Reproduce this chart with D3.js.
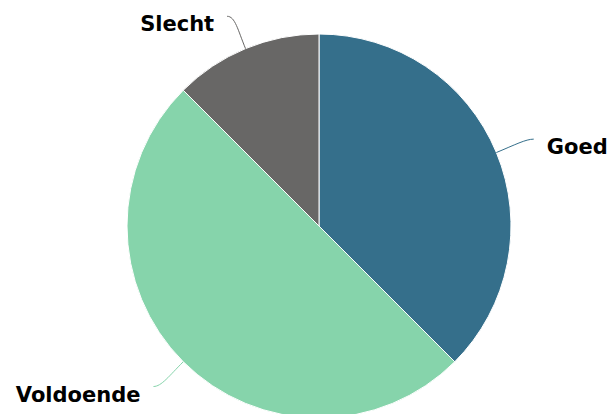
<!DOCTYPE html>
<html>
<head>
<meta charset="utf-8">
<script src="https://cdn.jsdelivr.net/npm/d3@7"></script>
<style>
  body { margin: 0; background: #fff; }
  svg { display: block; }
</style>
</head>
<body>
<div class="chart"></div>
<script>
var labels = ["Goed", "Voldoende", "Slecht"];
var values = [37.5, 50, 12.5];
var colors = ["#356f8b", "#86d4ab", "#686766"];

var width = 611, height = 414;
var cx = 319, cy = 226, radius = 192;

var svg = d3.select('.chart').append('svg')
    .attr('width', width).attr('height', height);

var g = svg.append('g').attr('transform', 'translate(' + cx + ',' + cy + ')');

var pie = d3.pie().sort(null).value(function(d) { return d.value; });
var data = pie(labels.map(function(l, i) { return { label: l, value: values[i], color: colors[i] }; }));

var arc = d3.arc().innerRadius(0).outerRadius(radius);

g.selectAll('.slice')
  .data(data)
  .enter().append('path')
    .attr('class', 'slice')
    .attr('d', arc)
    .attr('fill', function(d) { return d.data.color; })
    .attr('stroke', '#fff')
    .attr('stroke-width', 1)
    .attr('stroke-linejoin', 'round');

// point on a ray from the centre at the slice's middle angle
function pt(d, r) {
  var a = (d.startAngle + d.endAngle) / 2;
  return [Math.sin(a) * r, -Math.cos(a) * r];
}

function side(d) {
  var a = (d.startAngle + d.endAngle) / 2;
  return a < Math.PI ? 1 : -1;
}

// where the connector meets the label
function endPt(d) {
  var t = pt(d, radius + 35);
  return [t[0] + side(d) * 5, t[1]];
}

g.selectAll('.connector')
  .data(data)
  .enter().append('path')
    .attr('class', 'connector')
    .attr('fill', 'none')
    .attr('stroke', function(d) { return d.data.color; })
    .attr('stroke-width', 1)
    .attr('d', function(d) {
      var e = pt(d, radius), c = pt(d, radius + 20), t = endPt(d);
      var s = side(d);
      return 'M' + e[0] + ',' + e[1] +
        'C' + c[0] + ',' + c[1] + ' ' + (t[0] - s * 8) + ',' + t[1] + ' ' + t[0] + ',' + t[1];
    });

g.selectAll('.label')
  .data(data)
  .enter().append('text')
    .attr('class', 'label')
    .attr('x', function(d) {
      var t = endPt(d), s = side(d);
      return s > 0 ? t[0] + 13 : t[0] - 13;
    })
    .attr('y', function(d) { return endPt(d)[1] + 15; })
    .attr('text-anchor', function(d) { return side(d) > 0 ? 'start' : 'end'; })
    .attr('font-family', 'DejaVu Sans, sans-serif')
    .attr('font-weight', 'bold')
    .attr('font-size', '21px')
    .attr('fill', '#000')
    .text(function(d) { return d.data.label; });
</script>
</body>
</html>
